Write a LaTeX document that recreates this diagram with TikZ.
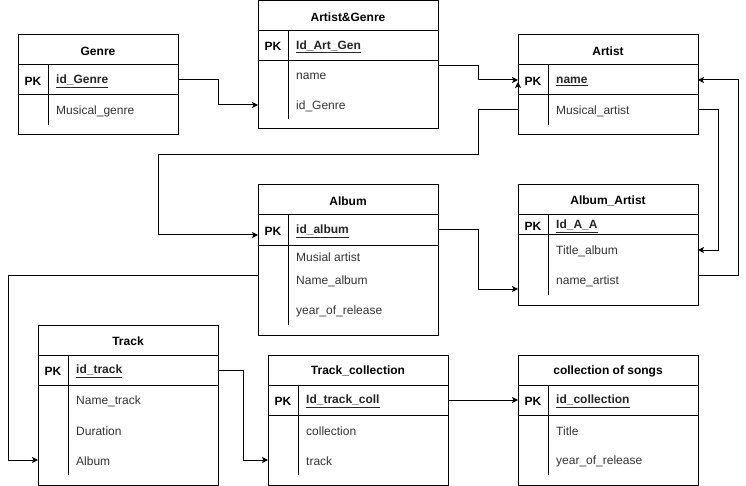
\documentclass[tikz,border=0pt]{standalone}
\usepackage{fontspec}
\setmainfont{Liberation Sans}
\usetikzlibrary{arrows.meta}
\newcommand{\ertab}[9]{%
  \draw[tb] (#2,#4) rectangle ({#2+#3},#7);
  \draw[tb] (#2,#5) -- ({#2+#3},#5);
  \draw[tb] (#2,#6) -- ({#2+#3},#6);
  \draw[tb] ({#2+30},#5) -- ({#2+30},{#7-10});
  \node[ttl] (#1) at ({#2+#3/2},{(#4+#5)/2}) {#8};
  \node[pkl] (#1-pk) at ({#2+15},{(#5+#6)/2}) {PK};
  \node[pkf] (#1-key) at ({#2+38},{(#5+#6)/2}) {\underline{#9}};
  \coordinate (#1-pkL) at (#2,{(#5+#6)/2});
  \coordinate (#1-pkR) at ({#2+#3},{(#5+#6)/2});
}
\newcommand{\erfld}[5]{%
  \node[fld] (#1) at ({#2+38},#4) {#5};
  \coordinate (#1-L) at (#2,#4);
  \coordinate (#1-R) at ({#2+#3},#4);
}
\begin{document}
\fontsize{12}{14}\selectfont
\begin{tikzpicture}[x=1pt,y=-1pt,
  tb/.style={draw=black,line width=1pt},
  ttl/.style={font=\bfseries,text=black,inner sep=0pt,yshift=-1.3pt},
  pkl/.style={font=\bfseries,text=black,inner sep=0pt,yshift=-1.3pt},
  pkf/.style={anchor=west,font=\bfseries,text=black!85,inner sep=0pt,yshift=-1.3pt},
  fld/.style={anchor=west,text=black!80,inner sep=0pt,yshift=-1.5pt},
  conn/.style={draw=black,line width=1pt,-{Stealth[length=6pt,width=6pt,inset=1.5pt]}}]
\useasboundingbox[fill=white] (0,0) rectangle (746,486);

% tables
\ertab{genre}{18}{160}{35}{65}{95}{135}{Genre}{id\_Genre}
\erfld{genre-f1}{18}{160}{110}{Musical\_genre}

\ertab{ag}{258}{180}{0.5}{30.5}{60.5}{129}{Artist\&Genre}{Id\_Art\_Gen}
\erfld{ag-f1}{258}{180}{75}{name}
\erfld{ag-f2}{258}{180}{105}{id\_Genre}

\ertab{artist}{518}{180}{35}{65}{95}{135}{Artist}{name}
\erfld{artist-f1}{518}{180}{110}{Musical\_artist}

\ertab{album}{258}{180}{185}{215}{245}{335}{Album}{id\_album}
\erfld{album-f1}{258}{180}{256}{Musial artist}
\erfld{album-f2}{258}{180}{280}{Name\_album}
\erfld{album-f3}{258}{180}{310}{year\_of\_release}

\ertab{aa}{518}{180}{185}{215}{235}{305}{Album\_Artist}{Id\_A\_A}
\erfld{aa-f1}{518}{180}{250}{Title\_album}
\erfld{aa-f2}{518}{180}{280}{name\_artist}

\ertab{track}{38}{180}{325}{355}{385}{485}{Track}{id\_track}
\erfld{track-f1}{38}{180}{400}{Name\_track}
\erfld{track-f2}{38}{180}{430}{Duration}
\erfld{track-f3}{38}{180}{460}{Album}

\ertab{tc}{268}{180}{355}{385}{415}{485}{Track\_collection}{Id\_track\_coll}
\erfld{tc-f1}{268}{180}{430}{collection}
\erfld{tc-f2}{268}{180}{460}{track}

\ertab{cs}{518}{180}{355}{385}{415}{485}{collection of songs}{id\_collection}
\erfld{cs-f1}{518}{180}{430}{Title}
\erfld{cs-f2}{518}{180}{460}{year\_of\_release}

% connector end points off row centres
\coordinate (ag-out) at (438,66);
\coordinate (album-in) at (258,235);
\coordinate (album-out) at (258,275);
\coordinate (aa-in) at (518,289);
\coordinate (aa-out) at (698,275);
\coordinate (stub) at (518,90);
\coordinate (stub-end) at (518,82);

% connectors
\draw[conn] (genre-pkR) -- ++(40,0) |- (ag-f2-L);
\draw[conn] (ag-out) -- ++(40,0) |- (artist-pkL);
\draw[conn] (artist-f1-L) -- ++(-40,0) -- ++(0,45) -| ++(-320,80) -- (album-in);
\draw[conn] (album-pkR) -- ++(40,0) |- (aa-in);
\draw[conn] (artist-f1-R) -- ++(20,0) |- (aa-f1-R);
\draw[conn] (aa-out) -- ++(40,0) |- (artist-pkR);
\draw[conn] (album-out) -- ++(-250,0) |- (track-f3-L);
\draw[conn] (track-pkR) -- ++(25,0) |- (tc-f2-L);
\draw[conn] (tc-pkR) -- (cs-pkL);
\draw[conn] (stub) -- (stub-end);
\end{tikzpicture}
\end{document}
